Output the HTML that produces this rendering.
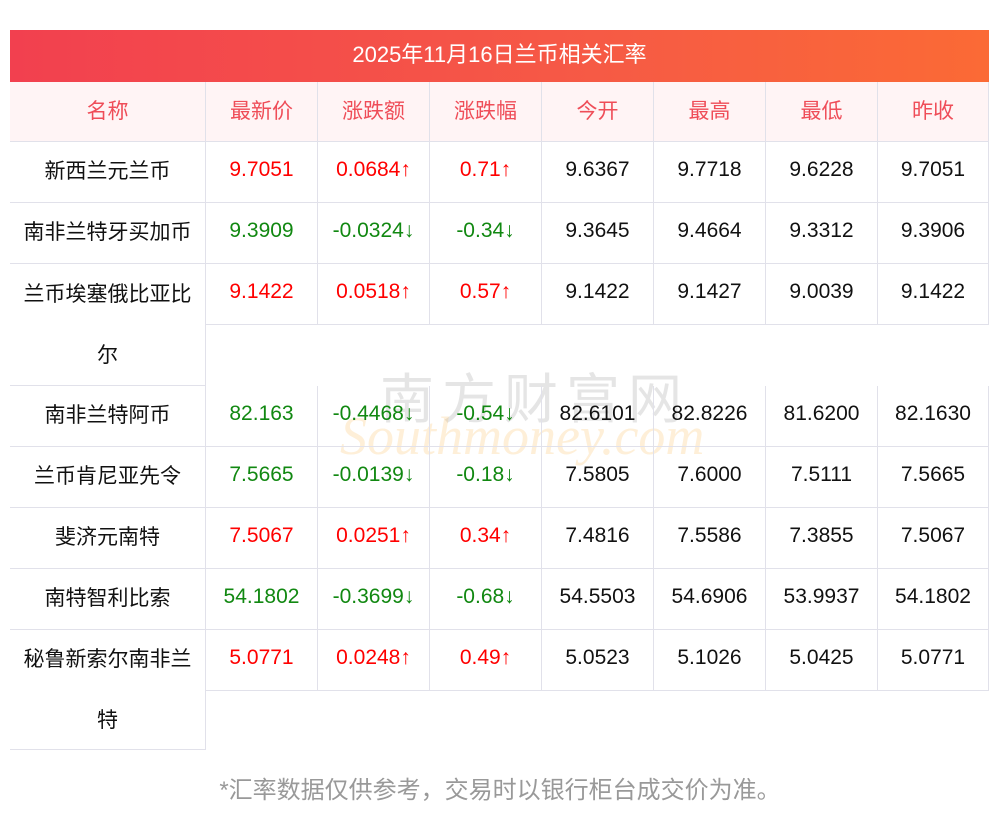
<!DOCTYPE html>
<html><head><meta charset="utf-8"><style>
body{margin:0;width:1000px;height:817px;background:#fff;position:relative;overflow:hidden;font-family:"Liberation Sans","Noto Sans CJK SC",sans-serif;}
.t{position:absolute;left:10px;top:30px;width:979px;height:52px;background:linear-gradient(90deg,#f2404f,#f65a45 60%,#fb6a35);color:#fff;font-size:22px;line-height:50px;text-align:center;}
.c{position:absolute;box-sizing:border-box;display:flex;align-items:center;justify-content:center;font-size:21px;color:#111;border-right:1px solid #e1e1ea;border-bottom:1px solid #e1e1ea;}
.h{background:#fff4f5;color:#ef4d58;}
.r{color:#f00}.g{color:#118811}
.ft{position:absolute;left:0;width:1000px;top:770px;text-align:center;color:#999;font-size:24px;}
.wm{position:absolute;left:380px;top:355px;font-size:54px;color:rgba(150,150,150,.25);letter-spacing:8px;}
.wm2{position:absolute;left:340px;top:405px;font-size:54px;font-style:italic;font-family:"Liberation Serif",serif;color:rgba(250,190,100,.25);}
</style></head><body>
<div class="t">2025年11月16日兰币相关汇率</div>
<div class="wm">南方财富网</div>
<div class="wm2">Southmoney.com</div>
<div id="g"></div>
<div class="ft">*汇率数据仅供参考，交易时以银行柜台成交价为准。</div>
<script>
var xs=[10,206,318,430,542,654,766,878,989];
var rows=[
["名称","最新价","涨跌额","涨跌幅","今开","最高","最低","昨收",82,60,60,"h"],
["新西兰元兰币","9.7051","0.0684↑","0.71↑","9.6367","9.7718","9.6228","9.7051",142,61,61,"r"],
["南非兰特牙买加币","9.3909","-0.0324↓","-0.34↓","9.3645","9.4664","9.3312","9.3906",203,61,61,"g"],
["兰币埃塞俄比亚比<br>尔","9.1422","0.0518↑","0.57↑","9.1422","9.1427","9.0039","9.1422",264,122,61,"r"],
["南非兰特阿币","82.163","-0.4468↓","-0.54↓","82.6101","82.8226","81.6200","82.1630",386,61,61,"g"],
["兰币肯尼亚先令","7.5665","-0.0139↓","-0.18↓","7.5805","7.6000","7.5111","7.5665",447,61,61,"g"],
["斐济元南特","7.5067","0.0251↑","0.34↑","7.4816","7.5586","7.3855","7.5067",508,61,61,"r"],
["南特智利比索","54.1802","-0.3699↓","-0.68↓","54.5503","54.6906","53.9937","54.1802",569,61,61,"g"],
["秘鲁新索尔南非兰<br>特","5.0771","0.0248↑","0.49↑","5.0523","5.1026","5.0425","5.0771",630,120,61,"r"]];
var h="";
rows.forEach(function(r){
 for(var i=0;i<8;i++){
  var hh=i==0?r[9]:r[10];
  var cls="c";
  if(r[11]=="h")cls+=" h";
  else if(i>=1&&i<=3)cls+=" "+r[11];
  var st="left:"+xs[i]+"px;top:"+r[8]+"px;width:"+(xs[i+1]-xs[i])+"px;height:"+hh+"px;padding-bottom:4px;";
  if(i==0&&r[9]>61)st+="line-height:61px;text-align:center;padding-bottom:0;";
  h+='<div class="'+cls+'" style="'+st+'">'+r[i]+'</div>';
 }
});
document.getElementById("g").innerHTML=h;
</script>
</body></html>
